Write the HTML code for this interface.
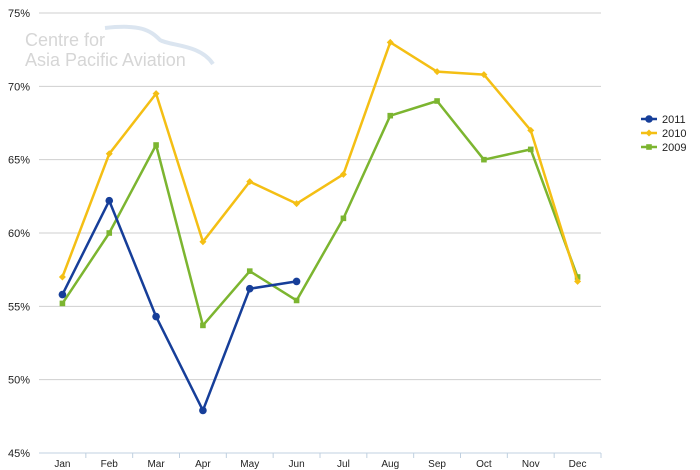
<!DOCTYPE html>
<html><head><meta charset="utf-8">
<style>
body{margin:0;background:#fff;font-family:"Liberation Sans",sans-serif;}
svg{display:block}
</style></head>
<body>
<svg id="chart" width="700" height="470" xmlns="http://www.w3.org/2000/svg">
  <g>
    <path d="M105 28 C140 24 150 30 160 40 C170 46 200 44 213 64" stroke="#dbe5f0" stroke-width="4" fill="none"/>
    <text x="25" y="46" font-size="18" fill="#d6d6d6">Centre for</text>
    <text x="25" y="66" font-size="18" fill="#d6d6d6">Asia Pacific Aviation</text>
  </g>
  <g id="grid"></g>
  <g id="axes"></g>
  <g id="series"></g>
  <g id="legend"></g>
</svg>
<script>
const months=["Jan","Feb","Mar","Apr","May","Jun","Jul","Aug","Sep","Oct","Nov","Dec"];
const yTicks=[45,50,55,60,65,70,75];
const s2011=[55.8,62.2,54.3,47.9,56.2,56.7];
const s2010=[57.0,65.4,69.5,59.4,63.5,62.0,64.0,73.0,71.0,70.8,67.0,56.7];
const s2009=[55.2,60.0,66.0,53.7,57.4,55.4,61.0,68.0,69.0,65.0,65.7,57.0];
const seriesNames=["2011","2010","2009"];

const NS="http://www.w3.org/2000/svg";
const L=39,R=601,T=13,B=453,ymin=45,ymax=75;
const bw=(R-L)/months.length;
const x=i=>L+bw*(i+0.5);
const y=v=>B-(v-ymin)/(ymax-ymin)*(B-T);
function mk(tag,attrs,parent){const e=document.createElementNS(NS,tag);for(const k in attrs)e.setAttribute(k,attrs[k]);parent.appendChild(e);return e;}
const grid=document.getElementById('grid'),axes=document.getElementById('axes'),ser=document.getElementById('series'),leg=document.getElementById('legend');
yTicks.forEach(v=>{
  if(v!==ymin){const l=mk('line',{x1:L,x2:R,y1:y(v),y2:y(v),stroke:'#cfcfcf','stroke-width':1},grid);
  
  }
  const t=mk('text',{x:30,y:y(v)+4,'font-size':11,'text-anchor':'end',fill:'#222'},axes);t.textContent=v+'%';
  
  
});
const ax=mk('line',{x1:L,x2:R,y1:B,y2:B,stroke:'#c0d0e0','stroke-width':1},axes);


months.forEach((m,i)=>{
  const tk=mk('line',{x1:L+bw*(i+1),x2:L+bw*(i+1),y1:B,y2:B+5,stroke:'#c0d0e0'},axes);
  
  
  const t=mk('text',{x:x(i),y:B+14,'font-size':10,'text-anchor':'middle',fill:'#222'},axes);t.textContent=m;
  
  
});
function marker(type,cx,cy,col,parent,size){
  let e;
  if(type==='circle')e=mk('circle',{cx:cx,cy:cy,r:size,fill:col},parent);
  else if(type==='diamond')e=mk('path',{d:`M${cx} ${cy-size}L${cx+size} ${cy}L${cx} ${cy+size}L${cx-size} ${cy}Z`,fill:col},parent);
  else e=mk('rect',{x:cx-size,y:cy-size,width:2*size,height:2*size,fill:col},parent);
  return e;
}
const cfg=[[s2011,'#163e99','circle',3.8,'2011'],[s2010,'#f4bf14','diamond',3.5,'2010'],[s2009,'#7cb530','square',2.8,'2009']];
[cfg[2],cfg[1],cfg[0]].forEach(([data,col,type,sz,name])=>{
  const g=mk('g',{},ser);
  
  
  const p=mk('polyline',{points:data.map((v,i)=>x(i)+','+y(v)).join(' '),fill:'none',stroke:col,'stroke-width':2.5,'stroke-linejoin':'round'},g);
  
  
  data.forEach((v,i)=>{const m=marker(type,x(i),y(v),col,g,sz);
    
    });
});
cfg.forEach(([data,col,type,sz,name],k)=>{
  const yy=119+k*14;
  const g=mk('g',{},leg);
  
  
  mk('line',{x1:641,x2:657,y1:yy,y2:yy,stroke:col,'stroke-width':2.5},g);
  marker(type,649,yy,col,g,sz);
  const t=mk('text',{x:662,y:yy+4,'font-size':11,fill:'#222'},g);t.textContent=seriesNames[k];
});
</script>
</body></html>
